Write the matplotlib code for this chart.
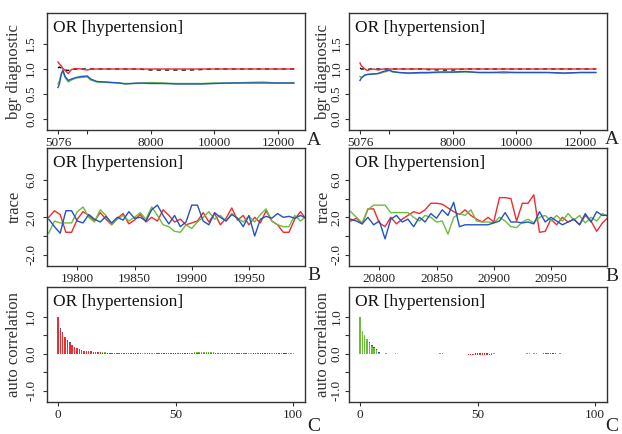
import numpy as np
import matplotlib
matplotlib.use("Agg")
import matplotlib.pyplot as plt

plt.rcParams['font.family'] = ['Liberation Serif', 'DejaVu Serif']

nan = np.nan
RED = '#ee2b2f'
BLUE = '#2253c0'
GREEN = '#6cbd3c'
INK = '#333333'
TITLE = 'OR [hypertension]'

# --- A: bgr diagnostic (iterations, ratio/width curves) ---
bgr_iter = [5076, 5120, 5180, 5230, 5300, 5400, 5500, 5650, 5800, 6000, 6100, 6300, 6600,
            7000, 7200, 7600, 8000, 8400, 8800, 9200, 9600, 10000, 10500, 11000, 11500, 12000, 12500]

bgr_l_red = [1.14, 1.10, 1.06, 1.01, 0.97, 0.91, 0.99, 1.01, 1.00, 0.98, 1.00, 1.00, 1.00,
             1.00, 1.00, 1.00, 1.00, 1.00, 1.00, 1.00, 1.00, 1.00, 1.00, 1.00, 1.00, 1.00, 1.00]
bgr_l_blue = [0.63, 0.70, 0.90, 0.98, 0.85, 0.77, 0.80, 0.83, 0.85, 0.86, 0.80, 0.75, 0.74,
              0.72, 0.70, 0.72, 0.71, 0.71, 0.70, 0.70, 0.70, 0.71, 0.72, 0.72, 0.72, 0.72, 0.72]
bgr_l_green = [0.70, 0.76, 0.90, 0.95, 0.83, 0.74, 0.78, 0.82, 0.83, 0.84, 0.78, 0.74, 0.73,
               0.72, 0.71, 0.71, 0.73, 0.72, 0.71, 0.71, 0.71, 0.72, 0.72, 0.73, 0.74, 0.72, 0.72]
bgr_l_black = [1.02, 1.04, 1.02, 1.00, 0.98, 0.97, 0.99, 1.00, 1.00, 1.00, 1.00, 1.00, 1.00,
               1.00, 1.00, 1.00, 0.98, 0.98, 0.98, 0.98, 0.99, 1.00, 1.00, 1.00, 1.00, 1.00, 1.00]

bgr_r_red = [1.12, 1.06, 1.03, 1.00, 0.97, 0.99, 1.00, 0.98, 1.00, 1.00, 1.00, 1.00, 1.00,
             1.00, 1.00, 1.00, 1.00, 1.00, 1.00, 1.00, 1.00, 1.00, 1.00, 1.00, 1.00, 1.00, 1.00]
bgr_r_blue = [0.77, 0.82, 0.85, 0.88, 0.89, 0.90, 0.90, 0.91, 0.95, 0.98, 0.95, 0.93, 0.92,
              0.93, 0.93, 0.94, 0.94, 0.95, 0.93, 0.93, 0.94, 0.93, 0.93, 0.93, 0.92, 0.93, 0.93]
bgr_r_green = [0.85, 0.83, 0.86, 0.88, 0.89, 0.89, 0.90, 0.91, 0.93, 0.97, 0.94, 0.93, 0.91,
               0.92, 0.92, 0.93, 0.93, 0.94, 0.93, 0.93, 0.92, 0.93, 0.93, 0.93, 0.91, 0.93, 0.93]
bgr_r_black = [1.02, 1.00, 1.00, 1.00, 0.99, 1.00, 1.00, 1.00, 1.00, 1.00, 1.00, 1.00, 1.00,
               1.00, 0.99, 0.98, 0.98, 1.00, 1.00, 1.00, 1.00, 1.00, 1.00, 1.00, 1.00, 1.00, 1.00]

# --- B: trace, every 5th iteration ---
trace_l_iter = list(range(19775, 20001, 5))
trace_l_red = [2.0, 2.7, 2.3, 0.4, 0.4, 1.8, 2.6, 2.2, 1.6, 2.5, 1.8, 1.2, 1.9, 2.4, 1.3, 1.7,
               2.3, 1.5, 2.0, 1.6, 2.8, 2.2, 1.5, 1.8, 1.2, 1.4, 1.6, 2.5, 1.5, 2.4, 1.2, 1.9,
               3.0, 1.7, 2.2, 1.2, 2.0, 1.4, 2.7, 1.6, 1.2, 0.4, 0.4, 1.8, 2.6, 1.8]
trace_l_blue = [1.8, 1.0, 0.3, 2.7, 2.7, 1.6, 1.4, 2.3, 1.8, 1.5, 2.1, 1.4, 2.0, 1.7, 2.6, 1.9,
                2.0, 1.6, 2.8, 3.3, 2.2, 1.3, 2.2, 1.0, 1.5, 3.3, 3.3, 1.6, 1.2, 2.5, 2.0, 1.6,
                2.3, 1.9, 1.0, 2.2, 0.0, 1.8, 2.1, 1.9, 2.4, 2.0, 2.1, 1.9, 2.2, 1.9]
trace_l_green = [0.3, 1.6, 1.4, 1.4, 1.4, 2.6, 3.1, 2.0, 1.5, 2.8, 2.2, 1.2, 1.8, 2.2, 1.6, 2.0,
                 2.5, 1.8, 3.1, 2.2, 1.2, 1.0, 0.5, 0.4, 1.2, 0.8, 1.5, 2.0, 2.6, 1.8, 2.2, 1.6,
                 2.4, 1.9, 1.5, 2.1, 1.5, 2.3, 2.9, 1.6, 1.2, 1.0, 1.0, 2.2, 1.6, 2.1]

trace_r_iter = list(range(20775, 21001, 5))
trace_r_red = [1.6, 1.9, 1.3, 2.9, 2.9, 1.4, 1.0, 2.0, 1.3, 1.8, 2.2, 2.6, 2.4, 2.8, 3.5, 3.5,
               3.4, 3.0, 2.6, 2.3, 2.8, 2.2, 1.8, 1.5, 2.0, 1.5, 4.1, 4.1, 4.0, 1.6, 3.5, 3.5,
               4.4, 0.4, 0.5, 1.8, 1.2, 2.0, 1.5, 1.8, 1.2, 2.2, 1.6, 0.5, 1.4, 2.0]
trace_r_blue = [1.8, 1.6, 1.3, 2.0, 1.2, 1.6, -0.3, 1.8, 2.2, 1.5, 1.8, 1.0, 2.0, 1.5, 2.4, 1.9,
                2.8, 2.2, 3.6, 1.0, 1.2, 1.2, 1.2, 1.2, 1.2, 1.4, 1.6, 2.5, 1.5, 1.5, 1.4, 1.5,
                1.3, 2.6, 1.5, 2.0, 1.6, 1.2, 1.5, 1.8, 1.2, 2.4, 1.5, 2.6, 2.2, 2.2]
trace_r_green = [2.6, 2.0, 1.4, 2.8, 3.3, 3.3, 3.3, 2.5, 2.5, 2.5, 2.5, 2.0, 1.6, 2.2, 2.0, 1.5,
                 1.6, 0.2, 2.0, 2.4, 2.2, 2.8, 1.6, 1.5, 1.5, 1.4, 2.0, 1.6, 1.0, 0.9, 1.5, 1.8,
                 1.4, 2.0, 2.2, 1.6, 2.2, 1.6, 2.4, 1.7, 2.2, 1.4, 2.0, 1.6, 2.4, 2.1]

# --- C: autocorrelation by lag ---
acf_l_red = [1.0, 0.68, 0.56, 0.45, 0.37, 0.30, 0.24, 0.19, 0.15, 0.12, 0.10, 0.09, 0.08, 0.07, 0.07, 0.06, 0.06, 0.06, 0.04, 0.03,
             0.02, 0.01, 0.01, 0.02, 0.02, 0.03, 0.03, 0.02, 0.02, 0.01, 0.02, 0.02, 0.01, 0.01, 0.02, 0.02, 0.01, 0.01, 0.02, 0.01,
             0.01, 0.01, 0.02, 0.02, 0.01, 0.01, 0.01, 0.02, 0.02, 0.01, 0.01, 0.02, 0.02, 0.02, 0.01, 0.01, 0.01, 0.02, 0.03, 0.03,
             0.03, 0.03, 0.03, 0.03, 0.03, 0.03, 0.02, 0.02, 0.03, 0.03, 0.03, 0.03, 0.03, 0.03, 0.03, 0.03, 0.03, 0.03, 0.03, 0.03,
             0.02, 0.01, 0.01, 0.01, 0.01, 0.02, 0.01, 0.01, 0.01, 0.01, 0.01, 0.01, 0.02, 0.01, 0.01, 0.01, 0.01, 0.01, 0.01, 0.01, 0.01]
acf_l_blue = [1.0, 0.70, 0.58, 0.47, 0.38, 0.31, 0.25, 0.20, 0.16, 0.13, 0.11, 0.09, 0.08, 0.07, 0.06, 0.05, 0.04, 0.04, 0.03, 0.02,
              0.02, 0.02, 0.02, 0.03, 0.03, 0.03, 0.03, 0.03, 0.03, 0.03, 0.03, 0.03, 0.03, 0.02, 0.02, 0.02, 0.01, 0.01, 0.02, 0.02,
              0.01, 0.01, 0.01, 0.02, 0.02, 0.02, 0.02, 0.02, 0.02, 0.02, 0.02, 0.02, 0.02, 0.02, 0.02, 0.02, 0.02, 0.01, 0.02, 0.02,
              0.02, 0.02, 0.02, 0.02, 0.02, 0.02, 0.02, 0.02, 0.02, 0.02, 0.02, 0.01, 0.01, 0.01, 0.02, 0.02, 0.02, 0.01, 0.02, 0.02,
              0.01, 0.01, 0.01, 0.02, 0.02, 0.01, 0.02, 0.02, 0.02, 0.02, 0.02, 0.01, 0.01, 0.02, 0.02, 0.01, 0.02, 0.02, 0.01, 0.01, 0.01]
acf_l_green = [1.0, 0.64, 0.53, 0.42, 0.34, 0.28, 0.23, 0.18, 0.14, 0.12, 0.10, 0.08, 0.07, 0.06, 0.05, 0.05, 0.05, 0.05, 0.05, 0.05,
               0.04, 0.03, 0.02, 0.02, 0.01, 0.01, 0.02, 0.03, 0.02, 0.02, 0.02, 0.01, 0.01, 0.01, 0.02, 0.03, 0.02, 0.02, 0.02, 0.03,
               0.02, 0.02, 0.03, 0.02, 0.02, 0.03, 0.02, 0.02, 0.01, 0.01, 0.01, 0.01, 0.02, 0.02, 0.02, 0.03, 0.03, 0.03, 0.04, 0.04,
               0.04, 0.04, 0.04, 0.04, 0.04, 0.04, 0.04, 0.03, 0.03, 0.03, 0.03, 0.03, 0.02, 0.02, 0.03, 0.02, 0.03, 0.03, 0.02, 0.02,
               0.02, 0.02, 0.02, 0.02, 0.03, 0.03, 0.02, 0.02, 0.02, 0.02, 0.02, 0.02, 0.03, 0.03, 0.03, 0.03, 0.03, 0.02, 0.03, 0.03, 0.03]

acf_r_green = [1.0, 0.62, 0.50, 0.40, 0.30, 0.22, 0.15, 0.10, 0.03, nan,
               0.01, 0.02, 0.01, nan, 0.01, 0.02, 0.01, nan, nan, nan,
               nan, nan, nan, nan, nan, nan, nan, nan, nan, nan,
               nan, nan, nan, 0.01, 0.02, 0.02, 0.01, nan, nan, nan,
               nan, nan, nan, nan, nan, nan, nan, nan, nan, nan,
               nan, nan, nan, nan, nan, 0.01, 0.02, 0.02, 0.01, 0.01,
               nan, nan, nan, nan, nan, nan, nan, nan, nan, nan,
               0.01, 0.02, 0.02, 0.01, 0.02, 0.02, 0.01, 0.01, nan, nan,
               nan, nan, nan, nan, 0.01, 0.02, 0.01, nan, nan]
acf_r_blue = [1.0, 0.60, 0.48, 0.38, 0.32, 0.25, 0.18, 0.12, 0.04, nan,
              nan, nan, nan, nan, nan, 0.01, nan, 0.01, nan, nan,
              nan, nan, nan, nan, nan, nan, nan, nan, nan, nan,
              nan, 0.01, nan, nan, nan, nan, nan, nan, nan, nan,
              nan, nan, nan, nan, nan, nan, nan, nan, nan, 0.02,
              0.02, 0.03, 0.02, 0.02, 0.02, 0.01, nan, nan, nan, nan,
              nan, nan, nan, nan, nan, nan, nan, 0.01, nan, nan,
              nan, nan, nan, nan, nan, nan, nan, nan, nan, nan,
              nan, 0.01, 0.02, 0.01, nan, nan, nan, nan, nan]
acf_r_red = [1.0, 0.58, 0.46, 0.36, 0.28, 0.20, 0.17, 0.08, 0.02, nan,
             nan, nan, nan, -0.01, nan, nan, nan, nan, nan, nan,
             nan, nan, nan, nan, nan, nan, nan, nan, nan, -0.01,
             -0.01, nan, -0.01, nan, nan, nan, nan, nan, nan, nan,
             nan, nan, nan, nan, nan, -0.01, -0.02, -0.02, -0.02, -0.02,
             -0.02, -0.02, -0.02, -0.02, -0.02, -0.02, -0.02, -0.01, nan, nan,
             nan, nan, nan, nan, nan, nan, nan, nan, nan, nan,
             nan, nan, nan, nan, nan, nan, nan, 0.01, 0.02, 0.02,
             0.02, 0.02, 0.02, 0.02, nan, nan, nan, nan, nan]

W, H = 622, 434
fig = plt.figure(figsize=(W / 100, H / 100), dpi=100)


def box(x0, y0, x1, y1):
    # pixel box (top-left origin) -> figure axes
    return fig.add_axes([x0 / W, 1 - y1 / H, (x1 - x0) / W, (y1 - y0) / H])


def style(ax, ypad):
    for s in ax.spines.values():
        s.set_color(INK)
        s.set_linewidth(1.0)
    ax.tick_params(direction='out', length=3, width=0.8, color=INK, labelsize=9.5,
                   labelcolor='#222222')
    ax.tick_params(axis='x', pad=2)
    ax.tick_params(axis='y', labelrotation=90, pad=ypad)
    for lab in ax.get_yticklabels():
        lab.set_va('center')
    ax.text(0.023, 0.835, TITLE, transform=ax.transAxes, fontsize=12.5, color='#111111')


cols = [(47, 305, 4, -0.095), (349, 607, 1.5, -0.068)]

# row A
for (x0, x1, ypad, lx), red, blue, green, black in zip(
        cols,
        [bgr_l_red, bgr_r_red], [bgr_l_blue, bgr_r_blue],
        [bgr_l_green, bgr_r_green], [bgr_l_black, bgr_r_black]):
    ax = box(x0, 13, x1, 130)
    ax.plot(bgr_iter, black, color='black', lw=1.0, ls=(0, (3, 3)))
    ax.plot(bgr_iter, green, color=GREEN, lw=1.0)
    ax.plot(bgr_iter, blue, color=BLUE, lw=1.0)
    ax.plot(bgr_iter, red, color=RED, lw=1.0)
    ax.set_xlim(4730, 12850)
    ax.set_ylim(-0.22, 2.12)
    ax.set_xticks([5076, 6000, 8000, 10000, 12000], ['5076', '', '8000', '10000', '12000'])
    ax.set_yticks([0.0, 0.5, 1.0, 1.5], ['0.0', '0.5', '1.0', '1.5'])
    ax.set_ylabel('bgr diagnostic', fontsize=12, color='#333333')
    ax.yaxis.set_label_coords(lx, 0.5)
    style(ax, ypad)

# row B
for (x0, x1, ypad, lx), its, red, blue, green, xt in zip(
        cols, [trace_l_iter, trace_r_iter],
        [trace_l_red, trace_r_red], [trace_l_blue, trace_r_blue],
        [trace_l_green, trace_r_green],
        [[19800, 19850, 19900, 19950], [20800, 20850, 20900, 20950]]):
    ax = box(x0, 148, x1, 266)
    ax.plot(its, red, color=RED, lw=1.0)
    ax.plot(its, green, color=GREEN, lw=1.0)
    ax.plot(its, blue, color=BLUE, lw=1.0)
    ax.set_xlim(its[0] - 1.5, its[0] + 224)
    ax.set_ylim(-3.2, 9.4)
    ax.set_xticks(xt, [str(v) for v in xt])
    ax.set_yticks([-2, 0, 2, 4, 6], ['-2.0', '', '2.0', '', '6.0'])
    ax.set_ylabel('trace', fontsize=12, color='#333333')
    ax.yaxis.set_label_coords(lx, 0.5)
    style(ax, ypad)

# row C
for (x0, x1, ypad, lx), chains in zip(
        cols,
        [[(acf_l_green, GREEN), (acf_l_blue, BLUE), (acf_l_red, RED)],
         [(acf_r_red, RED), (acf_r_blue, BLUE), (acf_r_green, GREEN)]]):
    ax = box(x0, 287, x1, 402)
    for vals, c in chains:
        ax.bar(np.arange(len(vals)), vals, width=0.6, color=c, linewidth=0)
    ax.set_xlim(-4.7, 105)
    ax.set_ylim(-1.3, 1.81)
    ax.set_xticks([0, 50, 100], ['0', '50', '100'])
    ax.set_yticks([-1, -0.5, 0, 0.5, 1], ['-1.0', '', '0.0', '', '1.0'])
    ax.set_ylabel('auto correlation', fontsize=12, color='#333333')
    ax.yaxis.set_label_coords(lx, 0.5)
    style(ax, ypad)

# panel letters
for txt, px, py in [('A', 314, 132), ('A', 612, 131), ('B', 314, 267), ('B', 612, 268),
                    ('C', 314, 418), ('C', 612, 418)]:
    fig.text(px / W, 1 - py / H, txt, ha='center', va='top', fontsize=14, color='#222222')

fig.savefig('out.png', dpi=100)
